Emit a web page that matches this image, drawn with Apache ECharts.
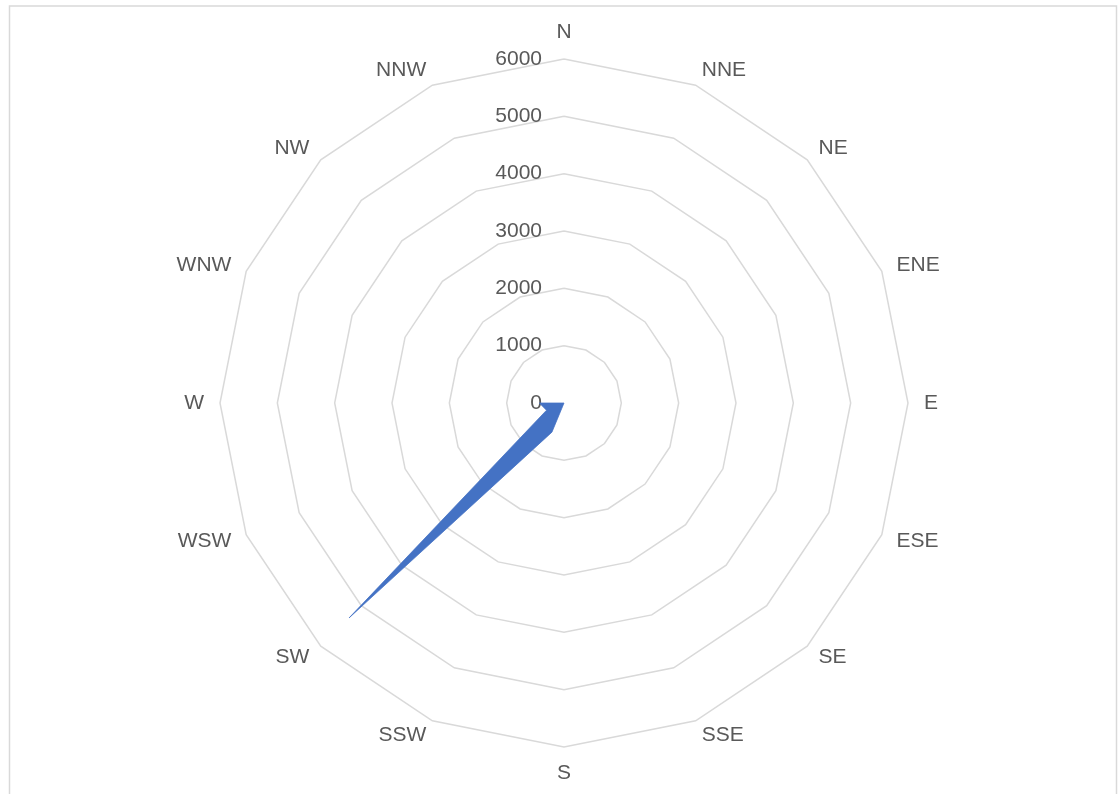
<!DOCTYPE html>
<html>
<head>
<meta charset="utf-8">
<title>Wind direction radar</title>
<script src="https://cdn.jsdelivr.net/npm/echarts@6/dist/echarts.min.js"></script>
<style>
  html, body { margin: 0; padding: 0; background: #ffffff; }
  #chart { width: 1119px; height: 794px; }
</style>
</head>
<body>
<div id="chart"></div>
<script>
// Compass sectors, listed clockwise from north
const directions = ['N', 'NNE', 'NE', 'ENE', 'E', 'ESE', 'SE', 'SSE',
                    'S', 'SSW', 'SW', 'WSW', 'W', 'WNW', 'NW', 'NNW'];
// Value per sector
const values = [0, 0, 0, 0, 0, 0, 0, 0,
                0, 550, 5300, 330, 430, 0, 0, 0];
// Radial scale
const axisMax = 6000;
const axisStep = 1000;

// ECharts lays out radar indicators counter-clockwise, so walk the
// compass backwards from N to keep the sectors in their true places.
const order = [0].concat(directions.map((_, i) => i).slice(1).reverse());

const textColor = '#595959';
const fontFamily = '"Liberation Sans", Arial, sans-serif';

const indicator = order.map((idx, k) => {
  const item = { name: directions[idx], min: 0, max: axisMax };
  if (k === 0) {
    item.axisLabel = {
      show: true,
      color: textColor,
      fontSize: 21,
      fontFamily: fontFamily,
      margin: 22,
      formatter: v => String(v)
    };
  }
  return item;
});

const chart = echarts.init(document.getElementById('chart'), null, { renderer: 'canvas' });
chart.setOption({
  animation: false,
  backgroundColor: '#ffffff',
  graphic: [{
    type: 'rect',
    shape: { x: 9.5, y: 6, width: 1107, height: 820 },
    style: { fill: 'none', stroke: '#d9d9d9', lineWidth: 1.5 },
    silent: true
  }],
  radar: {
    center: [564, 403],
    radius: 344,
    startAngle: 90,
    splitNumber: axisMax / axisStep,
    shape: 'polygon',
    indicator: indicator,
    axisName: {
      color: textColor,
      fontSize: 21,
      fontFamily: fontFamily
    },
    nameGap: 16,
    axisLine: { show: false },
    axisTick: { show: false },
    axisLabel: { show: false },
    splitArea: { show: false },
    splitLine: { lineStyle: { color: '#d9d9d9', width: 1.5 } }
  },
  series: [{
    type: 'radar',
    symbol: 'none',
    lineStyle: { color: '#4472C4', width: 0.75 },
    areaStyle: { color: '#4472C4', opacity: 1 },
    data: [{ value: order.map(idx => values[idx]) }]
  }]
});
</script>
</body>
</html>
